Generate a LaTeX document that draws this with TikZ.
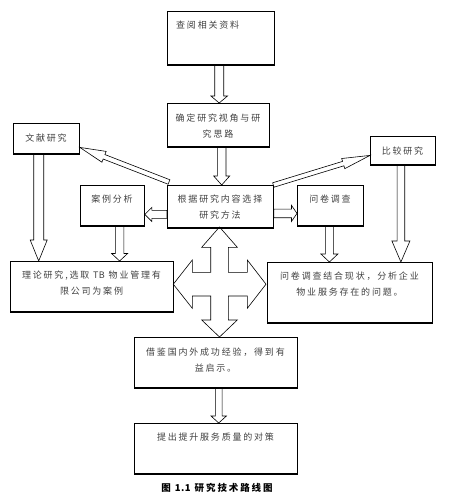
\documentclass[tikz,border=0pt]{standalone}
\usepackage{fontspec}
\setmainfont{Noto Sans CJK SC}[LetterSpace=20]
\usetikzlibrary{calc}
\newcommand\blockarrow[5]{%
  \coordinate (ba-c) at ($(#2)!#5!(#1)$);
  \draw[arr] ($(#1)!#3!90:(#2)$) -- ($(ba-c)!#3!90:(#2)$) -- ($(ba-c)!#4!90:(#2)$)
    -- (#2) -- ($(ba-c)!#4!-90:(#2)$) -- ($(ba-c)!#3!-90:(#2)$) -- ($(#1)!#3!-90:(#2)$) -- cycle;
}
\newcommand\tight[1]{{\addfontfeature{LetterSpace=4}#1}}
\begin{document}
\begin{tikzpicture}[x=1pt,y=-1pt,
  box/.style={draw, line width=0.8pt, inner sep=0pt, anchor=north west},
  txt/.style={font=\fontsize{9}{16}\selectfont, text=black!75, align=center, inner sep=0pt},
  arr/.style={draw, line width=0.6pt, line join=miter},
  bottomline/.style={line width=1.6pt}]
\useasboundingbox (0,0) rectangle (451,497);

% boxes
\node[box, minimum width=107pt, minimum height=53pt] (cy) at (167,11) {};
\node[box, minimum width=102pt, minimum height=43pt] (qd) at (167,103) {};
\node[box, minimum width=66pt, minimum height=30pt] (wx) at (13,123) {};
\node[box, minimum width=65pt, minimum height=28pt] (bj) at (370,136) {};
\node[box, minimum width=106pt, minimum height=42pt] (gj) at (167,185) {};
\node[box, minimum width=64pt, minimum height=40pt] (al) at (80,185) {};
\node[box, minimum width=66pt, minimum height=40pt] (wj) at (297,185) {};
\node[box, minimum width=163pt, minimum height=50pt] (ll) at (10,261) {};
\node[box, minimum width=165pt, minimum height=60pt] (wjj) at (267,262) {};
\node[box, minimum width=163pt, minimum height=50pt] (jj) at (134,337) {};
\node[box, minimum width=163pt, minimum height=50pt] (tc) at (134,423) {};
\foreach \n in {cy,qd,wx,bj,gj,al,wj,ll,wjj,jj,tc}
  \draw[bottomline] (\n.south west) -- (\n.south east);

% texts
\node[txt, anchor=west] (cyt) at (176,25) {查阅相关资料};
\node[txt] (qdt) at (218,126) {确定研究视角与研\\究思路};
\node[txt] (wxt) at (46,138) {文献研究};
\node[txt] (bjt) at (402.5,151) {比较研究};
\node[txt] (gjt) at (220,207) {根据研究内容选择\\研究方法};
\node[txt] (alt) at (112,199) {案例分析};
\node[txt] (wjt) at (330,199) {问卷调查};
\node[txt] (llt) at (91.5,283.5) {理论研究,选取 \tight{TB} 物业管理有\\限公司为案例};
\node[txt] (wjjt) at (349.5,284) {问卷调查结合现状，分析企业\\物业服务存在的问题。};
\node[txt] (jjt) at (215.5,360) {借鉴国内外成功经验，得到有\\益启示。};
\node[txt] (tct) at (215.5,437) {提出提升服务质量的对策};
\node[txt, text=black, font=\fontsize{9.5}{12}\selectfont\bfseries] (cap) at (217,488) {图 \tight{1.1} 研究技术路线图};

% connector coordinates
\coordinate (s1) at ($(cy.south)+(-1.7,0)$);
\coordinate (e1) at (s1 |- qd.north);
\coordinate (s2) at ($(qd.south)+(3.3,0)$);
\coordinate (e2) at (s2 |- gj.north);
\coordinate (s3) at ($(wx.south)+(-7.7,0)$);
\coordinate (e3) at (s3 |- ll.north);
\coordinate (s4) at ($(al.south)+(7.2,0)$);
\coordinate (e4) at (s4 |- ll.north);
\coordinate (s5) at ($(wj.south)+(-1,0)$);
\coordinate (e5) at (s5 |- wjj.north);
\coordinate (s6) at ($(bj.south)+(-2,0)$);
\coordinate (e6) at (s6 |- wjj.north);
\coordinate (s7) at ($(gj.west)+(0,8)$);
\coordinate (e7) at (s7 -| al.east);
\coordinate (s8) at ($(gj.east)+(0,7)$);
\coordinate (e8) at (s8 -| wj.west);
\coordinate (s9) at ($(gj.north west)+(2,-3)$);
\coordinate (e9) at ($(wx.east)+(0,9)$);
\coordinate (s10) at ($(gj.north east)+(-0.5,0)$);
\coordinate (e10) at ($(bj.west)+(0,5)$);
\coordinate (s11) at ($(jj.south)+(2.8,0)$);
\coordinate (e11) at (s11 |- tc.north);

\blockarrow{s1}{e1}{4.5pt}{8.3pt}{7pt}
\blockarrow{s2}{e2}{4.3pt}{8pt}{9pt}
\blockarrow{s3}{e3}{5pt}{8.5pt}{21pt}
\blockarrow{s4}{e4}{4.2pt}{8pt}{7.5pt}
\blockarrow{s5}{e5}{4pt}{8.5pt}{8pt}
\blockarrow{s6}{e6}{3.8pt}{9pt}{21pt}
\blockarrow{s7}{e7}{4pt}{7pt}{7pt}
\blockarrow{s8}{e8}{4.3pt}{8pt}{5.5pt}
\blockarrow{s9}{e9}{2.4pt}{5.8pt}{26pt}
\blockarrow{s10}{e10}{2.3pt}{5.3pt}{28pt}
\blockarrow{s11}{e11}{3.4pt}{7.7pt}{7pt}

% four-way arrow
\draw[arr] (219.5,227) -- (237.3,247.3) -- (228.3,247.3) -- (228.3,272.3) -- (247.3,272.3)
  -- (247.3,260) -- (266,284.2) -- (247.3,308.3) -- (247.3,296) -- (228.3,296)
  -- (228.3,320) -- (237.3,320) -- (219.5,337) -- (201.7,320) -- (210.7,320)
  -- (210.7,296) -- (192.3,296) -- (192.3,308.3) -- (173.3,284.2) -- (192.3,260)
  -- (192.3,272.3) -- (210.7,272.3) -- (210.7,247.3) -- (201.7,247.3) -- cycle;
\end{tikzpicture}
\end{document}
